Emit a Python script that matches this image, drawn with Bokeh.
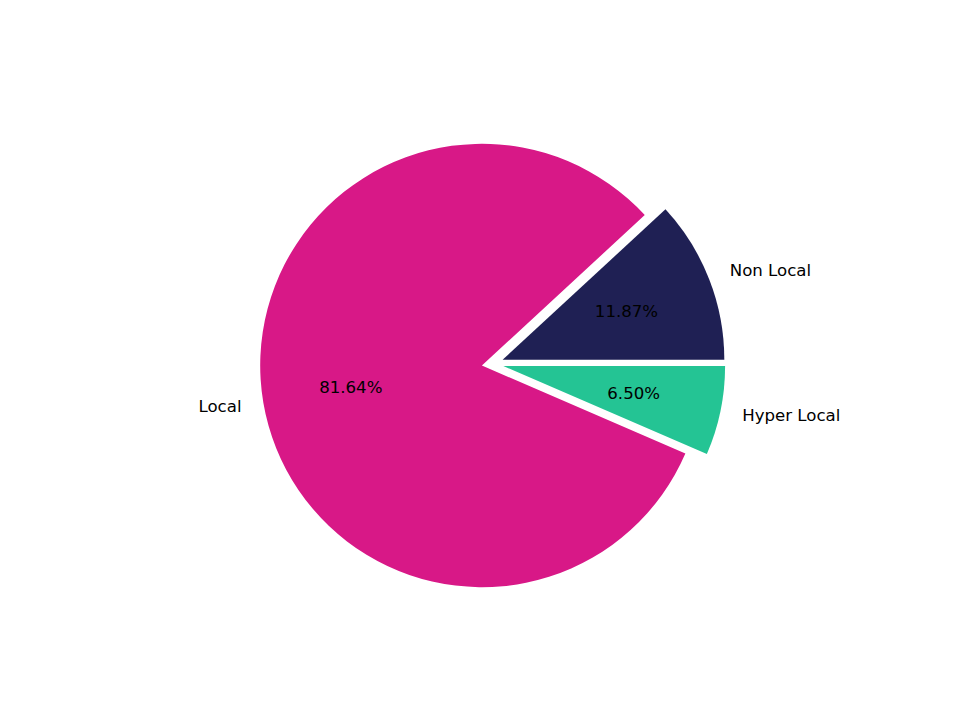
import math
from bokeh.plotting import figure
from bokeh.models import Range1d, ColumnDataSource
from bokeh.core.properties import value
from bokeh.embed import file_html
from bokeh.resources import INLINE

# ---- data ----
labels = ["Non Local", "Local", "Hyper Local"]
values = [11.87, 81.64, 6.50]
colors = ["#1f2054", "#d81887", "#24c494"]

# ---- style ----
explode = [0.097, 0.0, 0.097]          # offset distance (radius units)
explode_dir = [15.5, 0.0, -1.5]        # offset direction (degrees)
label_dist = 1.1
pct_dist = 0.6
R = 1.0
PX = 221.7                             # pixels per radius unit
W, H = 944, 704
cx_px, cy_px = 481.4, 365.0            # pie centre inside the figure (px)

x0 = -cx_px / PX
x1 = (W - cx_px) / PX
y1 = cy_px / PX
y0 = (cy_px - H) / PX

p = figure(width=W, height=H, output_backend="svg", toolbar_location=None,
           x_range=Range1d(x0, x1), y_range=Range1d(y0, y1),
           x_axis_type=None, y_axis_type=None, min_border=0,
           background_fill_color="white", border_fill_color="white")
p.outline_line_color = None
p.grid.visible = False

total = sum(values)
theta = 0.0
wx, wy, sa, ea, cols = [], [], [], [], []
lab_r = {"x": [], "y": [], "t": []}
lab_l = {"x": [], "y": [], "t": []}
pct = {"x": [], "y": [], "t": []}
for lab, v, c, e, ed in zip(labels, values, colors, explode, explode_dir):
    t1 = theta + 360.0 * v / total
    tm = math.radians(0.5 * (theta + t1))
    ox = e * math.cos(math.radians(ed))
    oy = e * math.sin(math.radians(ed))
    wx.append(ox); wy.append(oy)
    sa.append(math.radians(theta)); ea.append(math.radians(t1)); cols.append(c)
    lx = ox + label_dist * R * math.cos(tm)
    ly = oy + label_dist * R * math.sin(tm)
    d = lab_r if lx > 0 else lab_l
    d["x"].append(lx); d["y"].append(ly); d["t"].append(lab)
    pct["x"].append(ox + pct_dist * R * math.cos(tm))
    pct["y"].append(oy + pct_dist * R * math.sin(tm))
    pct["t"].append(f"{v:.2f}%")
    theta = t1

p.wedge(x="x", y="y", radius=R, start_angle="s", end_angle="e",
        fill_color="c", line_color=None,
        source=ColumnDataSource(dict(x=wx, y=wy, s=sa, e=ea, c=cols)))

font = value("DejaVu Sans")
fs = "16.6px"
p.text(x="x", y="y", text="t", source=ColumnDataSource(lab_r), text_align="left",
       text_baseline="middle", text_font=font, text_font_size=fs, text_color="black")
p.text(x="x", y="y", text="t", source=ColumnDataSource(lab_l), text_align="right",
       text_baseline="middle", text_font=font, text_font_size=fs, text_color="black")
p.text(x="x", y="y", text="t", source=ColumnDataSource(pct), text_align="center",
       text_baseline="middle", text_font=font, text_font_size=fs, text_color="black")

open("out.html", "w").write(file_html(p, INLINE))
